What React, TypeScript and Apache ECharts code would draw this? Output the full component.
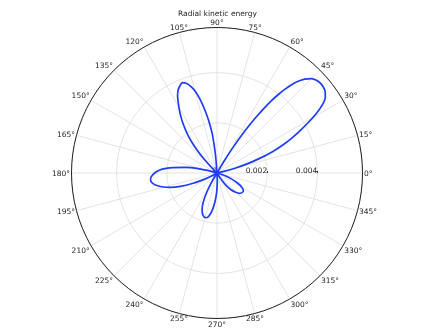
import { useEffect, useRef } from 'react';
import * as echarts from 'echarts';

const titleText = 'Radial kinetic energy';

// Angle (degrees) and radial kinetic energy.
const angleDeg = [
  0,
  11, 13, 15, 17, 19, 21, 23, 25, 27, 29, 31, 33, 35, 37, 39, 41, 43, 45, 47, 49, 51, 52, 53, 54, 55, 56, 57, 58, 59, 60, 62,
  93, 94, 95, 96, 97, 99, 101, 103, 105, 107, 109, 111, 113, 115, 117, 119, 121, 123, 125, 127, 129, 131, 133, 135, 136, 137,
  161, 164, 167, 170, 173, 176, 179, 182, 185, 188, 191, 194, 197, 200, 203, 206, 209, 211,
  236, 239, 242, 245, 248, 251, 254, 257, 260, 263, 266, 269, 272, 275,
  298, 302, 306, 310, 314, 318, 322, 326, 330, 334, 338, 342, 346, 349,
  360,
];

const energy = [
  0,
  0, 0.00028, 0.00074, 0.00128, 0.00182, 0.00237, 0.00285, 0.00329, 0.00372, 0.00417, 0.00463, 0.00502, 0.00527, 0.0054, 0.00545, 0.00546, 0.00542, 0.00532, 0.00512, 0.00479, 0.00429, 0.00397, 0.00361, 0.00317, 0.00271, 0.00222, 0.00171, 0.00117, 0.00064, 0.00022, 0,
  0, 0.00032, 0.0008, 0.00119, 0.00159, 0.00211, 0.00258, 0.00302, 0.00338, 0.00362, 0.00378, 0.00386, 0.00378, 0.00366, 0.00346, 0.00318, 0.0029, 0.00262, 0.00231, 0.00199, 0.00163, 0.00119, 0.00072, 0.00024, 0.00004, 0,
  0, 0.00024, 0.00072, 0.00127, 0.00179, 0.00219, 0.00243, 0.00258, 0.00266, 0.00264, 0.0025, 0.00227, 0.00195, 0.00155, 0.00107, 0.0006, 0.0002, 0,
  0, 0.00032, 0.00087, 0.00131, 0.00159, 0.00175, 0.00183, 0.00183, 0.00171, 0.00147, 0.00115, 0.00076, 0.00032, 0,
  0, 0.00024, 0.0006, 0.00087, 0.00107, 0.00121, 0.00127, 0.00127, 0.00115, 0.00091, 0.0006, 0.00032, 0.00008, 0,
  0,
];

const radiusMax = 0.0058;
const radiusStep = 0.002;
const angleStep = 15;

const FONT = 'DejaVu Sans';

export default function App() {
  const ref = useRef<HTMLDivElement>(null);
  useEffect(() => {
    if (!ref.current) return;
    const chart = echarts.init(ref.current, undefined, { renderer: 'svg' });
    const data = angleDeg.map((a, i) => [energy[i], a]);
    chart.setOption({
      animation: false,
      title: {
        text: titleText,
        left: 'center',
        top: 4,
        textStyle: { fontSize: 7.5, fontWeight: 'normal', color: '#262626', fontFamily: FONT },
      },
      polar: { center: [217, 173], radius: 145.5 },
      angleAxis: {
        type: 'value',
        min: 0,
        max: 360,
        interval: angleStep,
        startAngle: 0,
        clockwise: false,
        axisLine: { lineStyle: { color: '#222', width: 1 } },
        axisTick: { show: false },
        axisLabel: {
          formatter: (v: number) => (v === 360 ? '' : v + '°'),
          fontSize: 7.5,
          color: '#262626',
          margin: 1.5,
          fontFamily: FONT,
        },
        splitLine: { lineStyle: { color: '#dcdcdc', width: 0.8 } },
      },
      radiusAxis: {
        type: 'value',
        min: 0,
        max: radiusMax,
        interval: radiusStep,
        axisLine: { show: false },
        axisTick: { show: true, length: 2, lineStyle: { color: '#333' } },
        axisLabel: {
          formatter: (v: number) => (v > 0.005 ? '' : v === 0 ? '0' : String(v)),
          fontSize: 7.5,
          color: '#262626',
          align: 'right',
          verticalAlign: 'bottom',
          margin: -1,
          fontFamily: FONT,
        },
        splitLine: { lineStyle: { color: '#dcdcdc', width: 0.8 } },
      },
      series: [
        {
          type: 'line',
          coordinateSystem: 'polar',
          data,
          symbol: 'none',
          smooth: 0.2,
          lineStyle: { color: '#1f3df5', width: 1.7 },
        },
      ],
    });
    return () => chart.dispose();
  }, []);
  return (
    <div
      ref={ref}
      style={{ position: 'fixed', left: 0, top: 0, width: 435, height: 328 }}
    />
  );
}
